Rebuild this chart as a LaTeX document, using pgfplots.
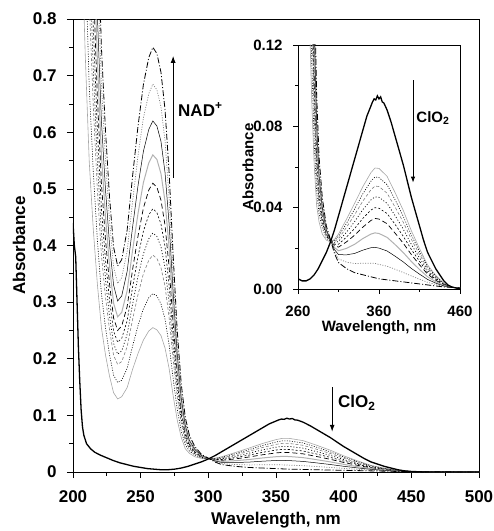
\documentclass[border=0pt]{standalone}
\usepackage{fontspec}
\setmainfont{Liberation Sans}
\usepackage{pgfplots}
\usepackage{pgfplotstable}
\pgfplotsset{compat=1.18}
\usetikzlibrary{arrows.meta}

\pgfplotstableread{
lam k1 k2 k3 k4 k5 k6 k7 k8 k9 k10
206 0.980 1.22 1.49 1.65 1.82 2.00 2.20 2.44 2.70 2.96
209 0.740 0.92 1.12 1.24 1.37 1.505 1.655 1.835 2.03 2.225
212 0.548 0.68 0.830 0.915 1.01 1.109 1.219 1.351 1.494 1.637
215 0.428 0.53 0.646 0.712 0.785 0.862 0.947 1.049 1.159 1.27
218 0.332 0.41 0.498 0.549 0.605 0.664 0.729 0.807 0.891 0.976
221 0.255 0.315 0.383 0.422 0.465 0.510 0.560 0.620 0.685 0.750
224 0.207 0.255 0.309 0.341 0.375 0.411 0.451 0.499 0.551 0.603
227 0.169 0.207 0.251 0.275 0.303 0.332 0.364 0.402 0.444 0.485
230 0.140 0.171 0.206 0.227 0.249 0.272 0.298 0.330 0.363 0.397
233 0.129 0.158 0.190 0.208 0.229 0.250 0.274 0.302 0.333 0.364
236 0.133 0.162 0.195 0.214 0.236 0.258 0.282 0.311 0.343 0.375
240 0.149 0.183 0.221 0.243 0.267 0.292 0.320 0.354 0.390 0.427
244 0.181 0.222 0.269 0.296 0.326 0.357 0.391 0.432 0.477 0.522
248 0.209 0.258 0.313 0.345 0.380 0.416 0.456 0.505 0.558 0.610
252 0.233 0.288 0.350 0.385 0.425 0.466 0.511 0.566 0.625 0.684
256 0.249 0.308 0.374 0.412 0.454 0.498 0.546 0.605 0.668 0.732
259 0.255 0.315 0.383 0.422 0.465 0.510 0.560 0.620 0.685 0.750
262 0.251 0.311 0.377 0.416 0.458 0.503 0.552 0.611 0.675 0.739
265 0.241 0.297 0.361 0.398 0.438 0.480 0.527 0.584 0.645 0.706
268 0.219 0.270 0.328 0.361 0.398 0.436 0.478 0.529 0.585 0.640
271 0.183 0.225 0.273 0.300 0.330 0.362 0.397 0.439 0.484 0.530
274 0.135 0.165 0.199 0.219 0.240 0.263 0.288 0.318 0.350 0.383
277 0.092 0.111 0.133 0.145 0.159 0.173 0.189 0.209 0.229 0.250
280 0.061 0.072 0.085 0.092 0.101 0.109 0.119 0.130 0.142 0.155
283 0.041 0.048 0.055 0.060 0.065 0.070 0.075 0.082 0.089 0.096
286 0.033 0.037 0.041 0.043 0.046 0.049 0.052 0.056 0.061 0.065
290 0.027 0.030 0.032 0.033 0.035 0.036 0.038 0.040 0.043 0.045
295 0.024 0.025 0.026 0.026 0.027 0.027 0.028 0.029 0.030 0.031
300 0.0232 0.0235 0.0237 0.0238 0.0239 0.0240 0.0240 0.0241 0.0242 0.0244
305 0.0244 0.0239 0.0233 0.0227 0.0220 0.0213 0.0204 0.0194 0.0183 0.0175
310 0.0270 0.0259 0.0247 0.0234 0.0220 0.0206 0.0188 0.0169 0.0148 0.0130
320 0.0344 0.0324 0.0304 0.0280 0.0256 0.0232 0.0200 0.0168 0.0132 0.0100
330 0.0422 0.0394 0.0366 0.0332 0.0298 0.0265 0.0220 0.0175 0.0125 0.0080
340 0.0503 0.0468 0.0432 0.0390 0.0347 0.0304 0.0248 0.0191 0.0127 0.0070
350 0.0572 0.0530 0.0488 0.0438 0.0388 0.0337 0.0270 0.0203 0.0127 0.0060
355 0.0595 0.0551 0.0506 0.0453 0.0400 0.0347 0.0276 0.0205 0.0126 0.0055
360 0.0593 0.0548 0.0504 0.0451 0.0397 0.0344 0.0273 0.0201 0.0121 0.0050
370 0.0554 0.0513 0.0471 0.0421 0.0371 0.0321 0.0254 0.0187 0.0112 0.0045
380 0.0473 0.0438 0.0402 0.0360 0.0317 0.0274 0.0218 0.0161 0.0097 0.0040
390 0.0386 0.0357 0.0328 0.0294 0.0259 0.0225 0.0179 0.0133 0.0081 0.0035
400 0.0286 0.0265 0.0244 0.0219 0.0194 0.0169 0.0135 0.0101 0.0064 0.0030
410 0.0199 0.0185 0.0170 0.0153 0.0136 0.0119 0.0096 0.0073 0.0048 0.0025
420 0.0118 0.0110 0.0102 0.0092 0.0082 0.0073 0.0060 0.0047 0.0033 0.0020
430 0.0067 0.0063 0.0058 0.0053 0.0048 0.0043 0.0036 0.0029 0.0022 0.0015
440 0.0028 0.0027 0.0025 0.0024 0.0022 0.0020 0.0018 0.0015 0.0012 0.0010
450 0.0009 0.0009 0.0009 0.0009 0.0008 0.0008 0.0008 0.0008 0.0008 0.0008
460 0.0005 0.0005 0.0005 0.0005 0.0005 0.0005 0.0005 0.0005 0.0005 0.0005
480 0.0002 0.0002 0.0002 0.0002 0.0002 0.0002 0.0002 0.0002 0.0002 0.0002
500 0 0 0 0 0 0 0 0 0 0
}\nadtable

\pgfplotstableread{
lam a
200 0.44
201 0.40
202 0.38
203 0.30
204 0.22
205 0.16
206 0.11
207 0.08
208 0.065
210 0.050
213 0.041
216 0.035
220 0.030
225 0.025
230 0.020
235 0.016
240 0.013
245 0.010
250 0.008
255 0.006
260 0.005
265 0.004
270 0.004
275 0.005
280 0.007
285 0.010
290 0.014
295 0.018
300 0.023
305 0.029
310 0.036
315 0.043
320 0.050
325 0.057
330 0.064
335 0.071
340 0.078
345 0.085
350 0.090
352 0.092
354 0.0935
356 0.093
358 0.095
360 0.0935
362 0.0945
364 0.092
366 0.0915
370 0.088
375 0.082
380 0.075
385 0.068
390 0.061
395 0.053
400 0.045
405 0.038
410 0.031
415 0.024
420 0.018
425 0.014
430 0.010
435 0.007
440 0.004
445 0.002
450 0.001
455 0.0005
460 0.0
480 0.0
500 0.0
}\boldtable

\newcommand{\drawcurves}{%
\addplot[gray!70, line width=0.6pt] table[x=lam,y=k1]{\nadtable};
\addplot[black, line width=0.6pt, dash pattern=on 1pt off 1.5pt] table[x=lam,y=k2]{\nadtable};
\addplot[gray, line width=0.6pt, dash pattern=on 3pt off 2pt] table[x=lam,y=k3]{\nadtable};
\addplot[black, line width=0.7pt, dash pattern=on 1pt off 2pt] table[x=lam,y=k4]{\nadtable};
\addplot[black, line width=0.6pt, dash pattern=on 2pt off 2pt] table[x=lam,y=k5]{\nadtable};
\addplot[black, line width=0.7pt, dash pattern=on 5pt off 3pt] table[x=lam,y=k6]{\nadtable};
\addplot[gray!60, line width=1pt] table[x=lam,y=k7]{\nadtable};
\addplot[black, line width=0.5pt] table[x=lam,y=k8]{\nadtable};
\addplot[gray, line width=0.7pt, dash pattern=on 1pt off 1.5pt] table[x=lam,y=k9]{\nadtable};
\addplot[black, line width=0.8pt, dash pattern=on 6pt off 2pt on 1pt off 2pt] table[x=lam,y=k10]{\nadtable};
\addplot[black, line width=1.3pt] table[x=lam,y=a]{\boldtable};
}

\begin{document}
\begin{tikzpicture}[font=\bfseries]
\path[use as bounding box] (-73pt,-59pt) rectangle (421pt,472pt);
\begin{axis}[
  at={(0pt,0pt)}, anchor=south west,
  scale only axis, width=406pt, height=453pt,
  xmin=200, xmax=500, ymin=0, ymax=0.8,
  xtick={200,250,300,350,400,450,500},
  ytick={0,0.1,0.2,0.3,0.4,0.5,0.6,0.7,0.8},
  minor x tick num=1, minor y tick num=1,
  tick align=outside, xtick pos=bottom, ytick pos=left,
  major tick length=6pt, minor tick length=3.5pt,
  axis line style={black, line width=0.7pt},
  every tick/.style={black, line width=0.7pt},
  /pgf/number format/assume math mode=true,
  tick label style={font=\fontsize{17}{17}\selectfont\bfseries},
  xticklabel style={yshift=-9pt},
  yticklabel style={xshift=-7pt},
  xlabel={Wavelength, nm}, ylabel={Absorbance},
  label style={font=\fontsize{17}{17}\selectfont\bfseries},
  xlabel style={at={(axis description cs:0.5,0)}, anchor=center, yshift=-48pt},
  ylabel style={at={([xshift=-54pt]axis description cs:0,0.5)}, anchor=center},
]
\drawcurves
\draw[-{Latex[length=7pt,width=5pt]}, line width=1pt] (axis cs:274,0.52) -- (axis cs:274,0.735);
\node[anchor=west, inner sep=0pt, font=\fontsize{17}{17}\selectfont\bfseries] at (axis cs:277.6,0.64) {NAD\textsuperscript{+}};
\draw[-{Latex[length=7pt,width=5pt]}, line width=1pt] (axis cs:391.5,0.150) -- (axis cs:391.5,0.071);
\node[anchor=west, inner sep=0pt, font=\fontsize{17}{17}\selectfont\bfseries] at (axis cs:395.8,0.122) {ClO\textsubscript{2}};
\end{axis}
\begin{axis}[
  at={(225pt,183pt)}, anchor=south west,
  scale only axis, width=162pt, height=244pt,
  xmin=260, xmax=460, ymin=0, ymax=0.12,
  xtick={260,360,460}, ytick={0,0.04,0.08,0.12},
  minor x tick num=1, minor y tick num=1,
  tick align=outside, xtick pos=bottom, ytick pos=left,
  major tick length=5pt, minor tick length=3pt,
  axis line style={black, line width=0.7pt},
  every tick/.style={black, line width=0.7pt},
  /pgf/number format/assume math mode=true,
  /pgf/number format/fixed, /pgf/number format/fixed zerofill, /pgf/number format/precision=2,
  tick label style={font=\fontsize{15}{15}\selectfont\bfseries},
  xticklabel style={yshift=-9pt, /pgf/number format/precision=0},
  yticklabel style={xshift=-7pt},
  xlabel={Wavelength, nm}, ylabel={Absorbance},
  label style={font=\fontsize{15}{15}\selectfont\bfseries},
  xlabel style={at={(axis description cs:0.5,0)}, anchor=center, yshift=-39pt},
  ylabel style={at={([xshift=-50pt]axis description cs:0,0.5)}, anchor=center},
]
\drawcurves
\draw[-{Latex[length=6pt,width=4.5pt]}, line width=0.9pt] (axis cs:402,0.1027) -- (axis cs:402,0.0523);
\node[anchor=west, inner sep=0pt, font=\fontsize{15}{15}\selectfont\bfseries] at (axis cs:406,0.084) {ClO\textsubscript{2}};
\end{axis}
\end{tikzpicture}
\end{document}
